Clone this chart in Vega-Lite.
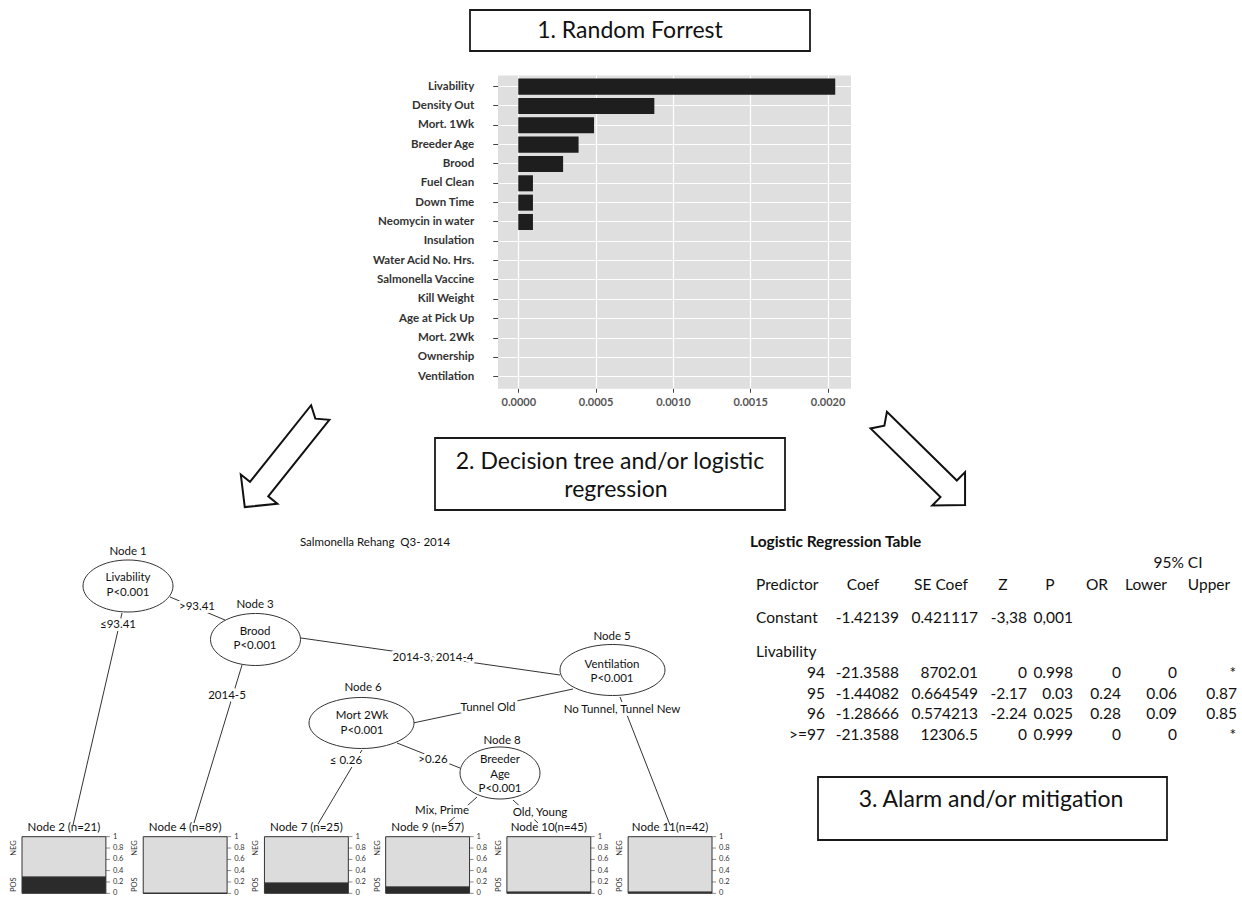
{
  "$schema": "https://vega.github.io/schema/vega-lite/v6.json",
  "width": 1242,
  "height": 899,
  "autosize": {"type": "none"},
  "padding": 0,
  "background": "white",
  "config": {"view": {"stroke": null}, "font": "Lato"},
  "datasets": {
    "bars": [
      {"var": "Livability", "imp": 0.00205},
      {"var": "Density Out", "imp": 0.00088},
      {"var": "Mort. 1Wk", "imp": 0.00049},
      {"var": "Breeder Age", "imp": 0.00039},
      {"var": "Brood", "imp": 0.00029},
      {"var": "Fuel Clean", "imp": 0.000095},
      {"var": "Down Time", "imp": 0.000095},
      {"var": "Neomycin in water", "imp": 0.000095},
      {"var": "Insulation", "imp": 0},
      {"var": "Water Acid No. Hrs.", "imp": 0},
      {"var": "Salmonella Vaccine", "imp": 0},
      {"var": "Kill Weight", "imp": 0},
      {"var": "Age at Pick Up", "imp": 0},
      {"var": "Mort. 2Wk", "imp": 0},
      {"var": "Ownership", "imp": 0},
      {"var": "Ventilation", "imp": 0}
    ],
    "panels": [
      {"node": "Node 2", "label": "Node 2 (n=21)", "pos": 0.286, "ticks": [0, 0.2, 0.4, 0.6, 0.8, 1]},
      {"node": "Node 4", "label": "Node 4 (n=89)", "pos": 0, "ticks": [0, 0.2, 0.4, 0.6, 0.8, 1]},
      {"node": "Node 7", "label": "Node 7 (n=25)", "pos": 0.18, "ticks": [0, 0.2, 0.4, 0.6, 0.8, 1]},
      {"node": "Node 9", "label": "Node 9 (n=57)", "pos": 0.11, "ticks": [0, 0.2, 0.4, 0.6, 0.8, 1]},
      {"node": "Node 10", "label": "Node 10(n=45)", "pos": 0.02, "ticks": [0, 0.2, 0.4, 0.6, 0.8, 1]},
      {"node": "Node 11", "label": "Node 11(n=42)", "pos": 0.02, "ticks": [0, 0.2, 0.4, 0.6, 0.8, 1]}
    ],
    "boxes": [
      {"x": 470, "y": 10, "x2": 810, "y2": 51},
      {"x": 435, "y": 438, "x2": 785, "y2": 510},
      {"x": 818, "y": 777, "x2": 1167, "y2": 840}
    ],
    "boxText": [
      {"x": 630, "y": 31, "text": "1. Random Forrest"},
      {"x": 610, "y": 462, "text": "2. Decision tree and/or logistic"},
      {"x": 616, "y": 490, "text": "regression"},
      {"x": 991, "y": 800, "text": "3. Alarm and/or mitigation"}
    ],
    "edges": [
      {"x": 122, "y": 613, "x2": 73, "y2": 825},
      {"x": 170, "y": 597, "x2": 225, "y2": 620},
      {"x": 242, "y": 665, "x2": 194, "y2": 823},
      {"x": 301, "y": 638, "x2": 560, "y2": 675},
      {"x": 573, "y": 689, "x2": 413, "y2": 723},
      {"x": 620, "y": 697, "x2": 670, "y2": 825},
      {"x": 362, "y": 750, "x2": 318, "y2": 824},
      {"x": 397, "y": 743, "x2": 460, "y2": 768},
      {"x": 477, "y": 797, "x2": 448, "y2": 823},
      {"x": 513, "y": 800, "x2": 538, "y2": 823}
    ],
    "edgeLabels": [
      {"x": 118, "y": 625, "text": "≤93.41"},
      {"x": 197, "y": 607, "text": ">93.41"},
      {"x": 227, "y": 696, "text": "2014-5"},
      {"x": 433, "y": 658, "text": "2014-3, 2014-4"},
      {"x": 488, "y": 708, "text": "Tunnel Old"},
      {"x": 622, "y": 710, "text": "No Tunnel, Tunnel New"},
      {"x": 346, "y": 761, "text": "≤ 0.26"},
      {"x": 433, "y": 760, "text": ">0.26"},
      {"x": 442, "y": 811, "text": "Mix, Prime"},
      {"x": 540, "y": 813, "text": "Old, Young"}
    ],
    "ellM": [{"x": 128, "y": 586}, {"x": 255.5, "y": 639.5}],
    "ellW": [{"x": 361.5, "y": 723}, {"x": 612.5, "y": 670}],
    "ellN": [{"x": 500, "y": 773}],
    "treeText": [
      {"x": 375, "y": 543, "text": "Salmonella Rehang\u00a0 Q3- 2014"},
      {"x": 128, "y": 552, "text": "Node 1"},
      {"x": 128, "y": 578, "text": "Livability"},
      {"x": 128, "y": 593, "text": "P<0.001"},
      {"x": 255, "y": 605, "text": "Node 3"},
      {"x": 255, "y": 632, "text": "Brood"},
      {"x": 255, "y": 646, "text": "P<0.001"},
      {"x": 612, "y": 637, "text": "Node 5"},
      {"x": 612, "y": 665, "text": "Ventilation"},
      {"x": 612, "y": 679, "text": "P<0.001"},
      {"x": 363, "y": 688, "text": "Node 6"},
      {"x": 362, "y": 716, "text": "Mort 2Wk"},
      {"x": 362, "y": 731, "text": "P<0.001"},
      {"x": 502, "y": 741, "text": "Node 8"},
      {"x": 500, "y": 760, "text": "Breeder"},
      {"x": 500, "y": 775, "text": "Age"},
      {"x": 500, "y": 789, "text": "P<0.001"}
    ],
    "arrows": [
      {"x": 282.5, "y": 459.8, "dir": "L"},
      {"x": 921.9, "y": 462.5, "dir": "R"}
    ],
    "tableTitle": [{"x": 750, "y": 542, "text": "Logistic Regression Table"}],
    "tableLeft": [
      {"x": 756, "y": 585, "text": "Predictor"},
      {"x": 756, "y": 618, "text": "Constant"},
      {"x": 756, "y": 652, "text": "Livability"}
    ],
    "tableCenter": [
      {"x": 1178, "y": 563, "text": "95% CI"},
      {"x": 863, "y": 585, "text": "Coef"},
      {"x": 941, "y": 585, "text": "SE Coef"},
      {"x": 1003, "y": 585, "text": "Z"},
      {"x": 1050, "y": 585, "text": "P"},
      {"x": 1097, "y": 585, "text": "OR"},
      {"x": 1146, "y": 585, "text": "Lower"},
      {"x": 1209, "y": 585, "text": "Upper"}
    ],
    "tableRight": [
      {"x": 899, "y": 618, "text": "-1.42139"},
      {"x": 978, "y": 618, "text": "0.421117"},
      {"x": 1027, "y": 618, "text": "-3,38"},
      {"x": 1073, "y": 618, "text": "0,001"},
      {"x": 825, "y": 673, "text": "94"},
      {"x": 899, "y": 673, "text": "-21.3588"},
      {"x": 978, "y": 673, "text": "8702.01"},
      {"x": 1027, "y": 673, "text": "0"},
      {"x": 1073, "y": 673, "text": "0.998"},
      {"x": 1121, "y": 673, "text": "0"},
      {"x": 1177, "y": 673, "text": "0"},
      {"x": 1236, "y": 673, "text": "*"},
      {"x": 825, "y": 693.5, "text": "95"},
      {"x": 899, "y": 693.5, "text": "-1.44082"},
      {"x": 978, "y": 693.5, "text": "0.664549"},
      {"x": 1027, "y": 693.5, "text": "-2.17"},
      {"x": 1073, "y": 693.5, "text": "0.03"},
      {"x": 1121, "y": 693.5, "text": "0.24"},
      {"x": 1177, "y": 693.5, "text": "0.06"},
      {"x": 1237, "y": 693.5, "text": "0.87"},
      {"x": 825, "y": 714, "text": "96"},
      {"x": 899, "y": 714, "text": "-1.28666"},
      {"x": 978, "y": 714, "text": "0.574213"},
      {"x": 1027, "y": 714, "text": "-2.24"},
      {"x": 1073, "y": 714, "text": "0.025"},
      {"x": 1121, "y": 714, "text": "0.28"},
      {"x": 1177, "y": 714, "text": "0.09"},
      {"x": 1237, "y": 714, "text": "0.85"},
      {"x": 825, "y": 735, "text": ">=97"},
      {"x": 899, "y": 735, "text": "-21.3588"},
      {"x": 978, "y": 735, "text": "12306.5"},
      {"x": 1027, "y": 735, "text": "0"},
      {"x": 1073, "y": 735, "text": "0.999"},
      {"x": 1121, "y": 735, "text": "0"},
      {"x": 1177, "y": 735, "text": "0"},
      {"x": 1236, "y": 735, "text": "*"}
    ]
  },
  "layer": [
    {
      "encoding": {
        "x": {"field": "x", "type": "quantitative", "scale": {"domain": [0, 1242], "range": [0, 1242], "nice": false, "zero": false}, "axis": null},
        "y": {"field": "y", "type": "quantitative", "scale": {"domain": [0, 899], "range": [0, 899], "nice": false, "zero": false}, "axis": null}
      },
      "layer": [
        {"data": {"name": "boxes"}, "mark": {"type": "rect", "fill": "white", "stroke": "#1a1a1a", "strokeWidth": 1.8}, "encoding": {"x2": {"field": "x2"}, "y2": {"field": "y2"}}},
        {"data": {"name": "edges"}, "mark": {"type": "rule", "stroke": "#333", "strokeWidth": 1}, "encoding": {"x2": {"field": "x2"}, "y2": {"field": "y2"}}},
        {"data": {"name": "edgeLabels"}, "mark": {"type": "text", "fontSize": 11.5, "fill": "white", "stroke": "white", "strokeWidth": 6, "strokeJoin": "round", "baseline": "middle"}, "encoding": {"text": {"field": "text"}}},
        {"data": {"name": "edgeLabels"}, "mark": {"type": "text", "fontSize": 11.5, "fill": "#111", "baseline": "middle"}, "encoding": {"text": {"field": "text"}}},
        {"data": {"name": "ellM"}, "mark": {"type": "point", "shape": "M-1,0C-1,-0.319,-0.552,-0.578,0,-0.578C0.552,-0.578,1,-0.319,1,0C1,0.319,0.552,0.578,0,0.578C-0.552,0.578,-1,0.319,-1,0Z", "size": 8100, "filled": true, "fill": "white", "stroke": "#333", "strokeWidth": 1, "opacity": 1}, "encoding": {}},
        {"data": {"name": "ellW"}, "mark": {"type": "point", "shape": "M-1,0C-1,-0.268,-0.552,-0.486,0,-0.486C0.552,-0.486,1,-0.268,1,0C1,0.268,0.552,0.486,0,0.486C-0.552,0.486,-1,0.268,-1,0Z", "size": 11025, "filled": true, "fill": "white", "stroke": "#333", "strokeWidth": 1, "opacity": 1}, "encoding": {}},
        {"data": {"name": "ellN"}, "mark": {"type": "point", "shape": "M-1,0C-1,-0.359,-0.552,-0.65,0,-0.65C0.552,-0.65,1,-0.359,1,0C1,0.359,0.552,0.65,0,0.65C-0.552,0.65,-1,0.359,-1,0Z", "size": 6400, "filled": true, "fill": "white", "stroke": "#333", "strokeWidth": 1, "opacity": 1}, "encoding": {}},
        {"data": {"name": "treeText"}, "mark": {"type": "text", "fontSize": 11.5, "fill": "#111", "baseline": "middle"}, "encoding": {"text": {"field": "text"}}},
        {"data": {"name": "arrows"}, "transform": [{"filter": "datum.dir === 'L'"}], "mark": {"type": "point", "shape": "M0,-1L0.387,-0.62L0.193,-0.62L0.193,1L0,0.87L-0.193,1L-0.193,-0.62L-0.387,-0.62Z", "size": 14641, "angle": 218.6, "filled": true, "fill": "white", "stroke": "#111", "strokeWidth": 2, "strokeJoin": "miter", "opacity": 1}, "encoding": {}},
        {"data": {"name": "arrows"}, "transform": [{"filter": "datum.dir === 'R'"}], "mark": {"type": "point", "shape": "M0,-1L0.387,-0.62L0.193,-0.62L0.193,1L0,0.87L-0.193,1L-0.193,-0.62L-0.387,-0.62Z", "size": 14641, "angle": 134.5, "filled": true, "fill": "white", "stroke": "#111", "strokeWidth": 2, "strokeJoin": "miter", "opacity": 1}, "encoding": {}},
        {"data": {"name": "boxText"}, "mark": {"type": "text", "fontSize": 23, "fill": "#111", "baseline": "middle"}, "encoding": {"text": {"field": "text"}}},
        {"data": {"name": "tableTitle"}, "mark": {"type": "text", "fontSize": 15.5, "fontWeight": "bold", "fill": "#111", "align": "left", "baseline": "middle"}, "encoding": {"text": {"field": "text"}}},
        {"data": {"name": "tableLeft"}, "mark": {"type": "text", "fontSize": 15.5, "fill": "#111", "align": "left", "baseline": "middle"}, "encoding": {"text": {"field": "text"}}},
        {"data": {"name": "tableCenter"}, "mark": {"type": "text", "fontSize": 15.5, "fill": "#111", "align": "center", "baseline": "middle"}, "encoding": {"text": {"field": "text"}}},
        {"data": {"name": "tableRight"}, "mark": {"type": "text", "fontSize": 15.5, "fill": "#111", "align": "right", "baseline": "middle"}, "encoding": {"text": {"field": "text"}}}
      ]
    },
    {
      "data": {"name": "bars"},
      "mark": {"type": "point", "opacity": 0},
      "encoding": {
        "x": {"field": "imp", "type": "quantitative", "scale": {"domain": [0, 1], "range": [497.7, 850.7], "nice": false, "zero": false}, "axis": {"orient": "top", "values": [0.5], "grid": true, "gridColor": "#dfdfdf", "gridWidth": 353, "gridOpacity": 1, "labels": false, "ticks": false, "domain": false, "title": null}},
        "y": {"field": "imp", "type": "quantitative", "scale": {"domain": [0, 1], "range": [75, 388.3], "nice": false, "zero": false}, "axis": null}
      }
    },
    {
      "data": {"name": "bars"},
      "mark": {"type": "point", "opacity": 0},
      "encoding": {
        "x": {"field": "imp", "type": "quantitative", "scale": {"domain": [-0.000133, 0.00215], "range": [497.7, 850.7], "nice": false, "zero": false}, "axis": {"orient": "top", "values": [0, 0.0005, 0.001, 0.0015, 0.002], "grid": true, "gridColor": "white", "gridWidth": 1.2, "gridOpacity": 1, "labels": false, "ticks": false, "domain": false, "title": null}},
        "y": {"field": "imp", "type": "quantitative", "scale": {"domain": [0, 1], "range": [75, 388.3], "nice": false, "zero": false}, "axis": null}
      }
    },
    {
      "data": {"name": "bars"},
      "mark": {"type": "bar", "fill": "#1e1e1e"},
      "encoding": {
        "y": {"field": "var", "type": "nominal", "sort": null, "scale": {"range": [75, 388.3], "paddingInner": 0.17, "paddingOuter": 0.185}, "axis": {"orient": "left", "offset": -497.7, "grid": true, "gridColor": "white", "gridWidth": 1.2, "gridOpacity": 1, "bandPosition": 0.5, "domain": false, "tickSize": 5, "tickColor": "#444", "labelPadding": 19, "labelFontSize": 11.5, "labelFontWeight": "bold", "labelColor": "#333", "labelFont": "Lato", "title": null}},
        "x": {"field": "imp", "type": "quantitative", "scale": {"domain": [-0.000133, 0.00215], "range": [497.7, 850.7], "nice": false, "zero": false}, "axis": {"orient": "bottom", "offset": -510.7, "values": [0, 0.0005, 0.001, 0.0015, 0.002], "format": ".4f", "grid": false, "domain": false, "tickSize": 4, "tickColor": "#444", "labelPadding": 4, "labelFontSize": 11, "labelFontWeight": "bold", "labelColor": "#555", "labelFont": "Lato", "title": null}}
      }
    },
    {
      "data": {"name": "panels"},
      "encoding": {
        "x": {"field": "node", "type": "nominal", "sort": null, "scale": {"domain": ["Node 2", "Node 4", "Node 7", "Node 9", "Node 10", "Node 11"], "range": [22, 712], "paddingInner": 0.308, "paddingOuter": 0}, "axis": null}
      },
      "layer": [
        {"mark": {"type": "rect", "fill": "#dcdcdc", "stroke": "#333", "strokeWidth": 1}, "encoding": {"y": {"field": "pos", "type": "quantitative", "scale": {"domain": [0, 1], "range": [893.3, 836.7], "nice": false, "zero": false}, "axis": null}, "y2": {"datum": 1}}},
        {"mark": {"type": "rect", "fill": "#2b2b2b", "stroke": "#333", "strokeWidth": 1}, "encoding": {"y": {"field": "pos", "type": "quantitative"}, "y2": {"datum": 0}}},
        {"transform": [{"flatten": ["ticks"]}], "mark": {"type": "tick", "orient": "horizontal", "size": 4, "thickness": 0.8, "xOffset": 44, "color": "#333"}, "encoding": {"y": {"field": "ticks", "type": "quantitative"}}},
        {"transform": [{"flatten": ["ticks"]}], "mark": {"type": "text", "align": "left", "baseline": "middle", "xOffset": 49, "fontSize": 7.5, "fill": "#333"}, "encoding": {"y": {"field": "ticks", "type": "quantitative"}, "text": {"field": "ticks", "type": "quantitative", "format": "~g"}}},
        {"mark": {"type": "text", "text": "NEG", "angle": 270, "xOffset": -50, "fontSize": 7.5, "fill": "#333", "baseline": "middle"}, "encoding": {"y": {"datum": 0.8, "type": "quantitative"}}},
        {"mark": {"type": "text", "text": "POS", "angle": 270, "xOffset": -50, "fontSize": 7.5, "fill": "#333", "baseline": "middle"}, "encoding": {"y": {"datum": 0.15, "type": "quantitative"}}},
        {"mark": {"type": "text", "yOffset": -9, "fontSize": 11.5, "fill": "#111", "baseline": "middle"}, "encoding": {"y": {"datum": 1, "type": "quantitative"}, "text": {"field": "label"}}}
      ]
    }
  ],
  "resolve": {"scale": {"x": "independent", "y": "independent"}}
}
